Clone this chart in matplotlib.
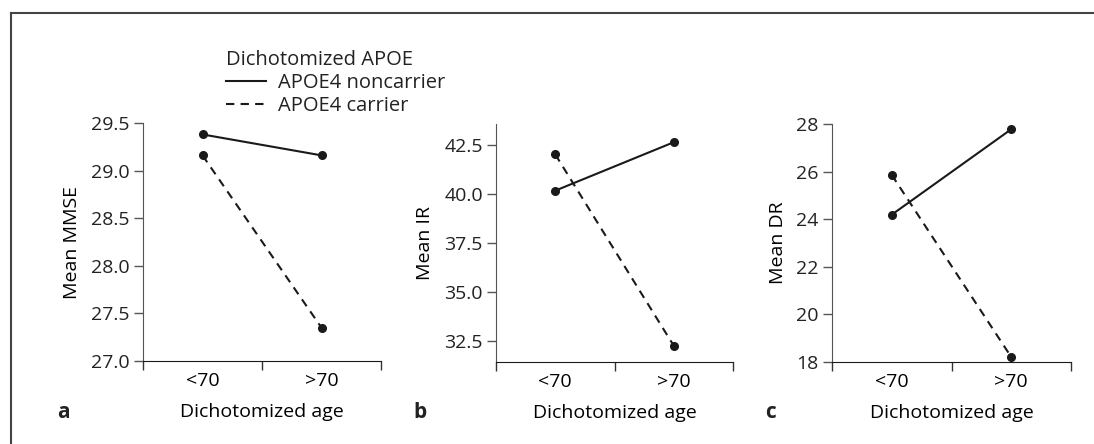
import numpy as np
import matplotlib.pyplot as plt
from matplotlib.lines import Line2D

plt.rcParams['font.family'] = ['Open Sans', 'DejaVu Sans']
plt.rcParams['font.size'] = 14
plt.rcParams['text.color'] = '#222222'

# data
age_groups = ['<70', '>70']
mmse_noncarrier = [29.38, 29.16]
mmse_carrier = [29.16, 27.35]
ir_noncarrier = [40.17, 42.64]
ir_carrier = [42.02, 32.26]
dr_noncarrier = [24.19, 27.78]
dr_carrier = [25.86, 18.21]

ylabels = ['Mean MMSE', 'Mean IR', 'Mean DR']
panel_letters = ['a', 'b', 'c']
yticks_list = [[27.0, 27.5, 28.0, 28.5, 29.0, 29.5],
               [32.5, 35.0, 37.5, 40.0, 42.5],
               [18, 20, 22, 24, 26, 28]]
ylims = [(27.0, 29.5), (31.43, 43.57), (18, 28)]
ytick_fmt = ['{:.1f}', '{:.1f}', '{:.0f}']

W, H = 1094, 444
fig = plt.figure(figsize=(W / 100, H / 100), dpi=100)

# pixel boxes: left, right, top, bottom
boxes = [(143, 381, 123, 361), (496, 733, 124, 362), (832, 1071, 124, 362)]
letter_x = [57, 413, 765]
series = [(mmse_noncarrier, mmse_carrier), (ir_noncarrier, ir_carrier), (dr_noncarrier, dr_carrier)]

x = np.array([0.5, 1.5])
for i, (l, r, t, b) in enumerate(boxes):
    ax = fig.add_axes([l / W, 1 - b / H, (r - l) / W, (b - t) / H])
    non, car = series[i]
    ax.plot(x, non, color='#1a1a1a', lw=1.5, marker='o', ms=5.5, clip_on=False)
    ax.plot(x, car, color='#1a1a1a', lw=1.5, ls=(0, (4, 3)), marker='o', ms=5.5, clip_on=False)
    ax.set_xlim(0, 2)
    ax.set_ylim(*ylims[i])
    ax.set_xticks([0, 1, 2])
    ax.set_xticklabels([])
    ax.set_xticks(x, minor=True)
    ax.set_xticklabels(age_groups, minor=True)
    ax.tick_params(axis='x', which='minor', length=0, pad=8)
    ax.tick_params(axis='x', which='major', length=6.5, width=1, color='#333333', direction='out')
    ax.set_yticks(yticks_list[i])
    ax.set_yticklabels([ytick_fmt[i].format(v) for v in yticks_list[i]])
    ax.tick_params(axis='y', length=6.5, width=1, color='#555555', pad=3)
    ax.tick_params(labelcolor='#222222')
    for s in ['top', 'right']:
        ax.spines[s].set_visible(False)
    ax.spines['left'].set_color('#555555')
    ax.spines['bottom'].set_color('#1a1a1a')
    ax.set_ylabel(ylabels[i], labelpad=7)
    ax.set_xlabel('Dichotomized age', labelpad=9)
    fig.text(letter_x[i] / W, 1 - 412 / H, panel_letters[i], fontsize=15, fontweight='bold',
             va='center', ha='left')

handles = [Line2D([], [], color='#1a1a1a', lw=1.5),
           Line2D([], [], color='#1a1a1a', lw=1.5, ls=(0, (4, 3)))]
fig.legend(handles, ['APOE4 noncarrier', 'APOE4 carrier'], title='Dichotomized APOE',
           loc='upper left', bbox_to_anchor=(226 / W, 1 - 50 / H), frameon=False,
           borderpad=0, borderaxespad=0, handlelength=2.0, handletextpad=0.6,
           labelspacing=0.15, alignment='left', title_fontsize=14.5, fontsize=14.5)

# frame lines on top and left
fig.add_artist(Line2D([11 / W, 1], [1 - 13 / H, 1 - 13 / H], color='#444444', lw=1.5))
fig.add_artist(Line2D([11 / W, 11 / W], [1 - 13 / H, 0], color='#444444', lw=1.5))

fig.savefig('out.png', dpi=100)
